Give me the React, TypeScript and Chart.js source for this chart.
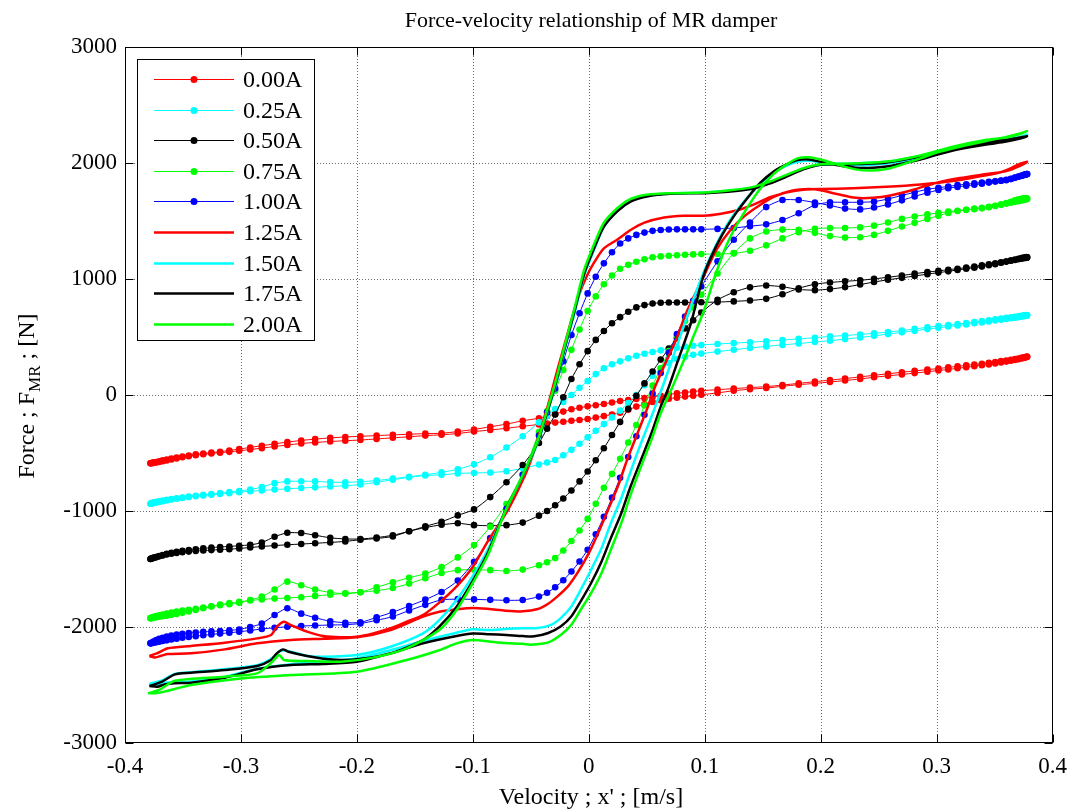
import React, { useEffect, useRef } from "react";
import { Chart, registerables } from "chart.js";

Chart.register(...registerables);

const FONT = "'Liberation Serif', 'Times New Roman', Times, serif";

const seriesLabels = ["0.00A", "0.25A", "0.50A", "0.75A", "1.00A", "1.25A", "1.50A", "1.75A", "2.00A"];
const seriesColors = ["#ff0000", "#00ffff", "#000000", "#00ff00", "#0000ff", "#ff0000", "#00ffff", "#000000", "#00ff00"];
const seriesMarkers = [true, true, true, true, true, false, false, false, false];

const xTickValues = [-0.4, -0.3, -0.2, -0.1, 0, 0.1, 0.2, 0.3, 0.4];
const yTickValues = [-3000, -2000, -1000, 0, 1000, 2000, 3000];

// Velocity samples of the measured (marker) series, ascending [m/s]
const velocitySamples = [-0.378,-0.3775,-0.3765,-0.375,-0.373,-0.3705,-0.3675,-0.364,-0.36,-0.3555,-0.3505,-0.345,-0.339,-0.3325,-0.3255,-0.318,-0.31,-0.3015,-0.292,-0.282,-0.271,-0.26,-0.248,-0.236,-0.223,-0.21,-0.197,-0.183,-0.169,-0.155,-0.141,-0.127,-0.113,-0.099,-0.085,-0.071,-0.057,
  -0.043,-0.036,-0.029,-0.022,-0.015,-0.008,-0.001,0.006,0.013,0.02,0.027,0.034,0.041,0.048,0.055,0.062,0.069,0.076,0.083,0.09,0.097,
  0.111,0.125,0.139,0.153,0.167,0.181,0.195,0.208,0.221,0.234,0.246,0.258,0.27,0.281,0.292,0.3015,0.31,0.318,0.3255,0.3325,0.339,0.345,0.3505,0.3555,0.36,0.364,0.3675,0.3705,0.373,0.375,0.3765,0.3775,0.378];

// Force [N] at those samples: "Inc" = velocity-increasing branch, "Dec" = velocity-decreasing branch
const forceInc000 = [-589,-589,-587,-585,-582,-577,-571,-564,-556,-547,-537,-527,-519,-511,-504,-497,-490,-481,-470,-458,-444,-431,-418,-409,-401,-394,-388,-379,-369,-360,-350,-343,-332,-315,-302,-287,-270,
  -254,-246,-238,-230,-222,-215,-207,-195,-182,-168,-152,-128,-100,-80,-60,-45,-32,-23,-14,-6,2,
  18,37,50,60,75,89,100,112,125,138,153,165,177,189,201,211,220,230,239,248,256,264,272,280,288,295,302,309,315,320,324,327,330];
const forceDec000 = [-589,-586,-584,-581,-577,-571,-564,-556,-548,-539,-530,-521,-512,-504,-497,-489,-478,-466,-452,-437,-421,-406,-392,-380,-370,-362,-356,-350,-344,-338,-333,-330,-315,-297,-274,-251,-222,
  -200,-182,-163,-143,-123,-110,-98,-88,-77,-65,-52,-44,-35,-27,-18,-6,5,14,22,30,37,
  46,55,64,72,86,100,115,128,142,156,170,183,196,208,219,228,238,247,255,263,270,278,285,292,298,304,310,315,320,324,327,329,330];

const forceInc025 = [-937,-936,-934,-931,-927,-922,-916,-909,-901,-894,-887,-880,-873,-866,-860,-853,-846,-838,-830,-823,-815,-809,-802,-796,-789,-782,-772,-752,-731,-710,-694,-688,-676,-672,-669,-657,-632,
  -600,-582,-560,-520,-473,-420,-365,-308,-251,-193,-135,-70,0,85,165,230,275,310,330,346,357,
  374,390,406,419,432,444,457,468,482,496,510,525,540,554,568,579,590,599,608,618,626,634,642,648,655,661,666,671,675,679,682,684,687];
const forceDec025 = [-937,-933,-930,-926,-921,-916,-910,-904,-898,-891,-884,-875,-868,-861,-853,-845,-836,-827,-815,-794,-760,-745,-743,-745,-751,-753,-748,-737,-721,-705,-687,-667,-640,-598,-536,-453,-355,
  -236,-178,-122,-60,0,62,120,180,230,265,290,316,338,356,371,385,398,408,418,425,431,
  440,447,455,464,474,484,494,505,513,522,532,542,555,570,583,594,603,612,620,629,637,645,652,659,665,670,675,679,683,686,688,689,687];

const forceInc050 = [-1414,-1412,-1408,-1404,-1398,-1391,-1383,-1375,-1369,-1362,-1355,-1350,-1345,-1341,-1337,-1333,-1329,-1323,-1315,-1306,-1298,-1291,-1285,-1278,-1271,-1262,-1248,-1237,-1219,-1175,-1143,-1119,-1106,-1122,-1127,-1122,-1100,
  -1040,-1000,-951,-892,-823,-745,-659,-562,-459,-345,-232,-120,-7,100,203,305,400,490,574,645,711,
  820,886,928,944,933,910,904,913,930,952,974,993,1010,1026,1042,1055,1066,1078,1088,1097,1107,1118,1128,1140,1150,1158,1164,1170,1175,1179,1182,1184,1186];
const forceDec050 = [-1414,-1411,-1406,-1402,-1396,-1388,-1380,-1370,-1360,-1352,-1344,-1337,-1330,-1322,-1316,-1310,-1306,-1299,-1292,-1272,-1222,-1188,-1190,-1209,-1231,-1241,-1241,-1229,-1209,-1175,-1132,-1093,-1038,-986,-880,-752,-603,
  -414,-290,-169,-20,138,265,378,475,552,618,671,718,755,775,789,795,798,798,798,799,799,
  801,807,815,829,868,920,955,970,980,989,1001,1015,1030,1046,1060,1070,1080,1089,1098,1108,1118,1126,1135,1143,1150,1160,1168,1175,1181,1185,1188,1189,1186];

const forceInc075 = [-1925,-1924,-1923,-1920,-1916,-1912,-1907,-1902,-1896,-1888,-1878,-1866,-1853,-1838,-1823,-1806,-1794,-1783,-1772,-1762,-1755,-1750,-1743,-1732,-1721,-1710,-1700,-1687,-1664,-1626,-1580,-1535,-1510,-1506,-1510,-1517,-1505,
  -1468,-1442,-1406,-1340,-1259,-1168,-1068,-938,-800,-680,-550,-410,-258,-90,81,230,378,512,638,755,865,
  1047,1223,1350,1410,1426,1425,1398,1370,1357,1360,1380,1415,1452,1484,1518,1545,1570,1586,1597,1607,1614,1622,1631,1640,1649,1658,1665,1671,1676,1682,1685,1688,1692];
const forceDec075 = [-1925,-1921,-1917,-1912,-1905,-1899,-1892,-1884,-1876,-1866,-1858,-1851,-1843,-1832,-1822,-1813,-1804,-1792,-1767,-1738,-1677,-1609,-1640,-1677,-1702,-1712,-1700,-1657,-1615,-1575,-1540,-1484,-1400,-1294,-1135,-940,-686,
  -320,-140,36,215,390,565,724,850,955,1030,1088,1122,1149,1170,1187,1195,1201,1205,1209,1212,1215,
  1215,1221,1243,1290,1350,1403,1433,1440,1440,1445,1460,1487,1518,1539,1557,1570,1581,1588,1596,1602,1609,1618,1629,1643,1655,1666,1678,1687,1692,1696,1697,1695,1692];

const forceInc100 = [-2141,-2140,-2138,-2135,-2131,-2127,-2121,-2115,-2108,-2101,-2093,-2086,-2079,-2071,-2064,-2057,-2050,-2041,-2030,-2017,-2007,-1998,-1992,-1987,-1983,-1980,-1970,-1942,-1910,-1858,-1809,-1766,-1760,-1762,-1766,-1770,-1767,
  -1738,-1705,-1657,-1597,-1522,-1435,-1334,-1200,-1050,-885,-714,-535,-356,-170,12,190,365,525,677,812,935,
  1152,1339,1487,1620,1681,1681,1659,1634,1607,1600,1616,1643,1678,1712,1743,1767,1783,1794,1803,1812,1822,1831,1840,1848,1856,1863,1874,1883,1889,1895,1899,1902,1905];
const forceDec100 = [-2141,-2138,-2132,-2123,-2113,-2102,-2093,-2083,-2073,-2065,-2058,-2053,-2047,-2042,-2038,-2034,-2029,-2021,-2000,-1970,-1897,-1839,-1885,-1920,-1950,-1963,-1960,-1917,-1872,-1819,-1764,-1698,-1600,-1438,-1234,-981,-688,
  -350,-150,56,290,517,705,876,1020,1135,1230,1306,1350,1380,1400,1415,1422,1427,1428,1428,1428,1428,
  1432,1440,1455,1471,1508,1567,1638,1661,1661,1662,1667,1690,1720,1748,1773,1787,1798,1809,1817,1825,1832,1837,1842,1847,1852,1862,1872,1881,1890,1898,1902,1904,1905];

// ---- 1.25A (line only) ----
const velUp125 = [-0.379,-0.374,-0.368,-0.363,-0.343,-0.314,-0.286,-0.257,-0.229,-0.2,-0.171,-0.143,-0.129,-0.114,-0.1,-0.086,-0.072,-0.057,-0.044,-0.035,-0.027,-0.018,-0.009,0.0,0.008,0.016,0.025,0.033,0.042,0.051,0.056,0.065,0.075,0.085,0.098,0.11,0.122,0.134,0.148,0.16,0.175,0.19,0.2,0.215,0.23,0.245,0.26,0.28,0.3,0.32,0.343,0.36,0.372,0.378];
const frcUp125 = [-2250,-2262,-2245,-2233,-2227,-2193,-2141,-2112,-2101,-2089,-2026,-1911,-1868,-1848,-1836,-1845,-1859,-1865,-1845,-1799,-1736,-1650,-1521,-1363,-1191,-1004,-789,-560,-330,-100,43,250,470,730,1000,1250,1420,1540,1640,1710,1760,1775,1765,1730,1700,1700,1720,1770,1830,1870,1905,1930,1975,2010];
const velDn125 = [0.372,0.365,0.355,0.343,0.314,0.286,0.257,0.228,0.2,0.185,0.171,0.157,0.142,0.128,0.114,0.099,0.082,0.065,0.048,0.036,0.025,0.013,0.005,-0.002,-0.009,-0.015,-0.019,-0.027,-0.035,-0.044,-0.052,-0.061,-0.072,-0.087,-0.1,-0.114,-0.129,-0.143,-0.157,-0.171,-0.186,-0.2,-0.214,-0.229,-0.243,-0.257,-0.263,-0.269,-0.274,-0.286,-0.314,-0.343,-0.363,-0.372,-0.379];
const frcDn125 = [1995,1960,1920,1895,1845,1815,1795,1782,1776,1770,1747,1707,1641,1592,1563,1545,1545,1530,1486,1422,1342,1264,1149,1020,848,647,503,220,-80,-380,-620,-820,-1030,-1260,-1480,-1650,-1790,-1897,-1954,-2011,-2055,-2083,-2089,-2078,-2040,-1983,-1954,-1997,-2069,-2098,-2135,-2164,-2184,-2225,-2250];

// ---- 1.50A ----
const velUp150 = [-0.379,-0.372,-0.365,-0.343,-0.314,-0.286,-0.257,-0.229,-0.2,-0.171,-0.143,-0.114,-0.1,-0.086,-0.072,-0.057,-0.044,-0.032,-0.024,-0.015,-0.007,0.002,0.011,0.019,0.028,0.036,0.045,0.054,0.061,0.07,0.08,0.09,0.1,0.11,0.12,0.13,0.14,0.15,0.16,0.17,0.18,0.19,0.2,0.215,0.23,0.245,0.26,0.286,0.3,0.32,0.343,0.36,0.372,0.378];
const frcUp150 = [-2491,-2500,-2480,-2470,-2430,-2360,-2320,-2300,-2270,-2200,-2120,-2049,-2020,-2026,-2017,-2011,-2009,-1980,-1922,-1822,-1679,-1506,-1320,-1105,-890,-660,-416,-187,0,250,540,820,1080,1300,1480,1620,1740,1840,1920,1975,2010,2020,2005,1990,1980,1985,2000,2050,2090,2140,2180,2200,2220,2245];
const velDn150 = [0.372,0.36,0.343,0.314,0.286,0.257,0.228,0.2,0.185,0.17,0.155,0.14,0.12,0.1,0.07,0.05,0.036,0.025,0.013,0.005,-0.004,-0.012,-0.021,-0.029,-0.035,-0.044,-0.058,-0.072,-0.087,-0.1,-0.114,-0.129,-0.143,-0.171,-0.2,-0.229,-0.243,-0.256,-0.266,-0.274,-0.286,-0.314,-0.343,-0.357,-0.368,-0.379];
const frcDn150 = [2225,2205,2185,2130,2060,2010,1995,1985,1950,1890,1830,1785,1760,1745,1738,1718,1672,1592,1450,1265,1030,720,385,70,-130,-410,-720,-1000,-1330,-1560,-1767,-1940,-2055,-2170,-2241,-2256,-2250,-2215,-2205,-2275,-2330,-2365,-2390,-2405,-2460,-2491];

// ---- 1.75A ----
const velUp175 = [-0.379,-0.372,-0.366,-0.357,-0.343,-0.314,-0.286,-0.257,-0.229,-0.2,-0.171,-0.143,-0.114,-0.1,-0.086,-0.071,-0.057,-0.047,-0.035,-0.024,-0.015,-0.007,0.002,0.011,0.019,0.028,0.036,0.045,0.054,0.062,0.068,0.077,0.088,0.098,0.105,0.115,0.125,0.137,0.148,0.16,0.171,0.18,0.19,0.2,0.215,0.23,0.245,0.26,0.286,0.3,0.32,0.343,0.36,0.372,0.378];
const frcUp175 = [-2509,-2515,-2495,-2485,-2480,-2437,-2365,-2328,-2319,-2299,-2227,-2141,-2078,-2057,-2062,-2069,-2078,-2080,-2052,-1994,-1908,-1779,-1621,-1435,-1234,-1019,-789,-560,-330,-100,43,300,618,1000,1180,1380,1540,1700,1830,1930,1990,2025,2030,2010,1980,1960,1960,1975,2030,2070,2120,2160,2185,2210,2230];
const velDn175 = [0.372,0.36,0.343,0.314,0.286,0.257,0.228,0.2,0.185,0.17,0.155,0.14,0.12,0.1,0.07,0.05,0.036,0.025,0.013,0.005,-0.004,-0.012,-0.021,-0.029,-0.035,-0.044,-0.058,-0.072,-0.087,-0.1,-0.114,-0.129,-0.143,-0.171,-0.2,-0.214,-0.229,-0.243,-0.259,-0.264,-0.269,-0.274,-0.286,-0.314,-0.343,-0.357,-0.368,-0.379];
const frcDn175 = [2220,2200,2180,2120,2055,2005,1990,1985,1945,1880,1820,1775,1752,1740,1735,1712,1668,1588,1452,1275,1045,735,398,82,-120,-400,-715,-995,-1360,-1600,-1825,-1997,-2112,-2227,-2279,-2284,-2273,-2250,-2213,-2193,-2227,-2284,-2336,-2371,-2394,-2408,-2470,-2509];

// ---- 2.00A ----
const velUp200 = [-0.38,-0.373,-0.366,-0.343,-0.3,-0.257,-0.2,-0.157,-0.129,-0.114,-0.1,-0.086,-0.072,-0.057,-0.05,-0.035,-0.024,-0.015,-0.007,0.002,0.011,0.019,0.028,0.036,0.045,0.054,0.062,0.071,0.082,0.09,0.099,0.108,0.117,0.125,0.137,0.148,0.16,0.171,0.18,0.19,0.2,0.215,0.23,0.245,0.26,0.286,0.3,0.32,0.343,0.36,0.372,0.378];
const frcUp200 = [-2572,-2570,-2557,-2500,-2443,-2414,-2385,-2284,-2200,-2141,-2112,-2125,-2138,-2145,-2152,-2132,-2066,-1980,-1851,-1707,-1535,-1334,-1105,-861,-617,-387,-158,43,300,500,720,1000,1250,1420,1620,1780,1910,1990,2040,2050,2030,1985,1945,1935,1955,2040,2090,2140,2190,2225,2255,2275];
const velDn200 = [0.372,0.36,0.343,0.314,0.286,0.257,0.228,0.2,0.185,0.17,0.155,0.14,0.12,0.1,0.07,0.05,0.036,0.025,0.013,0.005,-0.004,-0.012,-0.021,-0.029,-0.035,-0.044,-0.058,-0.072,-0.087,-0.1,-0.114,-0.129,-0.157,-0.186,-0.214,-0.243,-0.263,-0.267,-0.274,-0.286,-0.314,-0.357,-0.37,-0.38];
const frcDn200 = [2250,2220,2200,2140,2065,2012,1995,1990,1955,1895,1835,1790,1762,1745,1740,1727,1690,1615,1485,1310,1078,761,417,101,-100,-390,-710,-1000,-1380,-1620,-1853,-2026,-2184,-2264,-2299,-2293,-2284,-2241,-2310,-2400,-2428,-2463,-2540,-2572];

const markerForces = [
  [forceInc000, forceDec000], [forceInc025, forceDec025], [forceInc050, forceDec050],
  [forceInc075, forceDec075], [forceInc100, forceDec100],
];
const lineLoops = [
  [velUp125, frcUp125, velDn125, frcDn125],
  [velUp150, frcUp150, velDn150, frcDn150],
  [velUp175, frcUp175, velDn175, frcDn175],
  [velUp200, frcUp200, velDn200, frcDn200],
];

function buildPoints(i: number) {
  if (i < 5) {
    const [inc, dec] = markerForces[i];
    const up = velocitySamples.map((x, k) => ({ x, y: inc[k] }));
    const down = velocitySamples.map((x, k) => ({ x, y: dec[k] })).reverse();
    return [...up, ...down];
  }
  const [vu, fu, vd, fd] = lineLoops[i - 5];
  return [
    ...vu.map((x, k) => ({ x, y: fu[k] })),
    ...vd.map((x, k) => ({ x, y: fd[k] })),
  ];
}

const framePlugin = {
  id: "matlabFrame",
  beforeDatasetsDraw(chart: any) {
    const { ctx, chartArea: a, scales } = chart;
    const xs = scales.x, ys = scales.y;
    ctx.save();
    ctx.strokeStyle = "rgba(60,60,60,0.75)";
    ctx.lineWidth = 1;
    ctx.setLineDash([1, 2]);
    for (const t of xTickValues) {
      const px = Math.round(xs.getPixelForValue(t)) + 0.5;
      if (px <= a.left + 1 || px >= a.right - 1) continue;
      ctx.beginPath(); ctx.moveTo(px, a.top); ctx.lineTo(px, a.bottom); ctx.stroke();
    }
    for (const t of yTickValues) {
      const py = Math.round(ys.getPixelForValue(t)) + 0.5;
      if (py <= a.top + 1 || py >= a.bottom - 1) continue;
      ctx.beginPath(); ctx.moveTo(a.left, py); ctx.lineTo(a.right, py); ctx.stroke();
    }
    ctx.restore();
  },
  afterDatasetsDraw(chart: any) {
    const { ctx, chartArea: a, scales } = chart;
    const xs = scales.x, ys = scales.y;
    ctx.save();
    ctx.setLineDash([]);
    ctx.strokeStyle = "#000";
    ctx.lineWidth = 1;
    const L = Math.round(a.left) + 0.5, R = Math.round(a.right) - 0.5;
    const T = Math.round(a.top) + 0.5, B = Math.round(a.bottom) - 0.5;
    ctx.strokeRect(L, T, R - L, B - T);
    const tl = 8;
    for (const t of xTickValues) {
      const px = Math.round(xs.getPixelForValue(t)) + 0.5;
      ctx.beginPath();
      ctx.moveTo(px, B); ctx.lineTo(px, B - tl);
      ctx.moveTo(px, T); ctx.lineTo(px, T + tl);
      ctx.stroke();
    }
    for (const t of yTickValues) {
      const py = Math.round(ys.getPixelForValue(t)) + 0.5;
      ctx.beginPath();
      ctx.moveTo(L, py); ctx.lineTo(L + tl, py);
      ctx.moveTo(R, py); ctx.lineTo(R - tl, py);
      ctx.stroke();
    }
    // legend box
    const bx = 137.5, by = 59.5, bw = 177, bh = 281;
    ctx.fillStyle = "#fff";
    ctx.fillRect(bx, by, bw, bh);
    ctx.strokeStyle = "#000";
    ctx.lineWidth = 1;
    ctx.strokeRect(bx, by, bw, bh);
    ctx.font = `24px ${FONT}`;
    ctx.textBaseline = "middle";
    ctx.textAlign = "left";
    seriesLabels.forEach((lab, i) => {
      const y = Math.round(79 + i * 30.6) + 0.5;
      ctx.strokeStyle = seriesColors[i];
      ctx.lineWidth = seriesMarkers[i] ? 1.2 : 2.5;
      ctx.beginPath(); ctx.moveTo(154, y); ctx.lineTo(234, y); ctx.stroke();
      if (seriesMarkers[i]) {
        ctx.fillStyle = seriesColors[i];
        ctx.beginPath(); ctx.arc(194, y, 3.5, 0, Math.PI * 2); ctx.fill();
      }
      ctx.fillStyle = "#000";
      ctx.fillText(lab, 243, y + 1);
    });
    ctx.restore();
  },
  afterDraw(chart: any) {
    const { ctx } = chart;
    ctx.save();
    ctx.fillStyle = "#000";
    ctx.textBaseline = "middle";
    ctx.textAlign = "center";
    ctx.font = `22px ${FONT}`;
    ctx.fillText("Force-velocity relationship of MR damper", 591, 21);
    ctx.font = `24px ${FONT}`;
    ctx.fillText("Velocity ; x' ; [m/s]", 591, 798);
    ctx.translate(34, 396);
    ctx.rotate(-Math.PI / 2);
    ctx.textAlign = "left";
    ctx.textBaseline = "alphabetic";
    const p1 = "Force ; F", sub = "MR", p2 = " ; [N]";
    ctx.font = `24px ${FONT}`;
    const w1 = ctx.measureText(p1).width;
    const w3 = ctx.measureText(p2).width;
    ctx.font = `17px ${FONT}`;
    const w2 = ctx.measureText(sub).width;
    const x0 = -(w1 + w2 + w3) / 2;
    ctx.font = `24px ${FONT}`;
    ctx.fillText(p1, x0, 0);
    ctx.font = `17px ${FONT}`;
    ctx.fillText(sub, x0 + w1, 6);
    ctx.font = `24px ${FONT}`;
    ctx.fillText(p2, x0 + w1 + w2, 0);
    ctx.restore();
  },
};

export default function App() {
  const canvasRef = useRef<HTMLCanvasElement | null>(null);

  useEffect(() => {
    if (!canvasRef.current) return;
    const datasets = seriesLabels.map((label, i) => ({
      label,
      data: buildPoints(i),
      borderColor: seriesColors[i],
      backgroundColor: seriesColors[i],
      borderWidth: seriesMarkers[i] ? 1 : 2.5,
      pointRadius: seriesMarkers[i] ? 3.3 : 0,
      pointBorderWidth: 0,
      pointBackgroundColor: seriesColors[i],
      pointHoverRadius: 0,
      showLine: true,
      fill: false,
      tension: 0.25,
      order: 9 - i,
    }));
    const chart = new Chart(canvasRef.current, {
      type: "scatter",
      data: { datasets },
      plugins: [framePlugin],
      options: {
        animation: false,
        responsive: false,
        maintainAspectRatio: false,
        events: [],
        layout: { padding: { left: 0, top: 47, right: 20, bottom: 0 } },
        plugins: {
          legend: { display: false },
          tooltip: { enabled: false },
          title: { display: false },
        },
        scales: {
          x: {
            type: "linear",
            min: -0.4,
            max: 0.4,
            afterFit: (s: any) => { s.height = 69; },
            afterBuildTicks: (s: any) => { s.ticks = xTickValues.map((v) => ({ value: v })); },
            grid: { display: false, drawTicks: false },
            border: { display: false },
            ticks: {
              autoSkip: false,
              maxRotation: 0,
              padding: 10,
              color: "#000",
              font: { family: FONT, size: 23 },
              callback: (v: any) => {
                const n = Math.round(Number(v) * 10) / 10;
                return n === 0 ? "0" : String(n);
              },
            },
          },
          y: {
            type: "linear",
            min: -3000,
            max: 3000,
            afterFit: (s: any) => { s.width = 125; },
            afterBuildTicks: (s: any) => { s.ticks = yTickValues.map((v) => ({ value: v })); },
            grid: { display: false, drawTicks: false },
            border: { display: false },
            ticks: {
              autoSkip: false,
              padding: 8,
              color: "#000",
              font: { family: FONT, size: 23 },
              callback: (v: any) => String(Math.round(Number(v))),
            },
          },
        },
      },
    });
    return () => chart.destroy();
  }, []);

  return (
    <div style={{ position: "fixed", left: 0, top: 0, width: 1077, height: 812, background: "#fff" }}>
      <canvas ref={canvasRef} width={1077} height={812} style={{ display: "block", width: 1077, height: 812 }} />
    </div>
  );
}
